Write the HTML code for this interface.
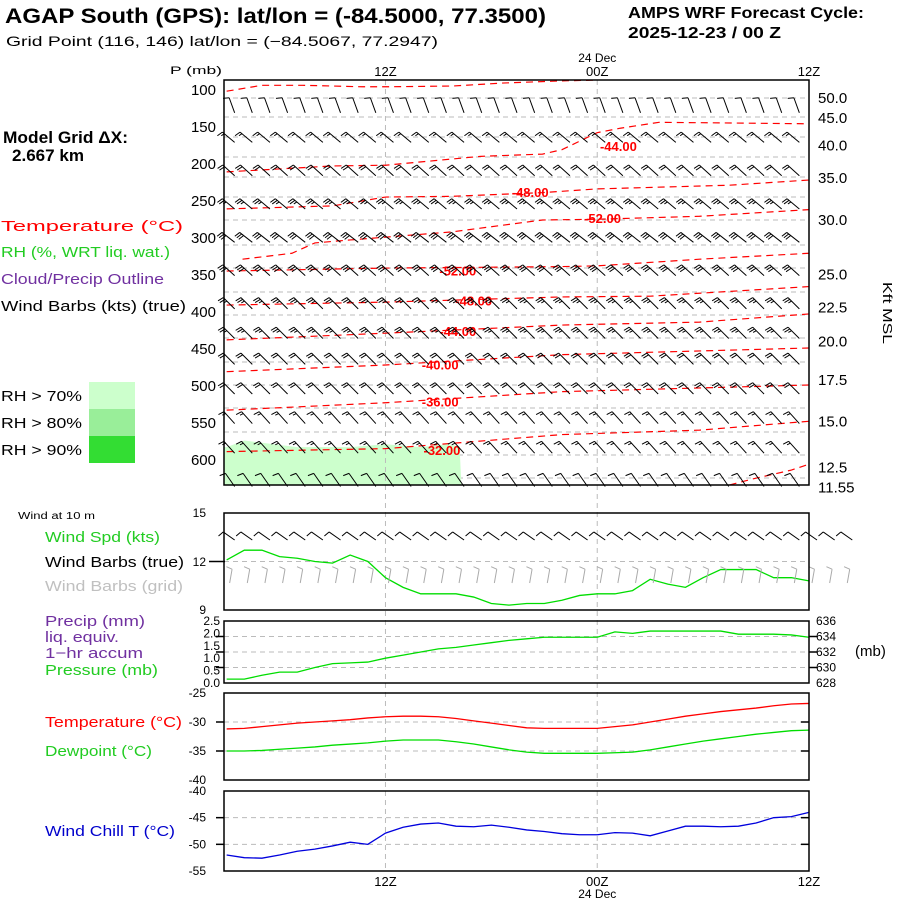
<!DOCTYPE html>
<html><head><meta charset="utf-8"><style>
body{margin:0;background:#fff;}
svg{display:block;font-family:"Liberation Sans",sans-serif;}
</style></head><body>
<svg id="c" width="900" height="900" viewBox="0 0 900 900">
<rect width="900" height="900" fill="#fff"/>
<text x="5" y="23" font-size="21" font-weight="bold" textLength="541" lengthAdjust="spacingAndGlyphs">AGAP South (GPS):  lat/lon = (-84.5000, 77.3500)</text>
<text x="6" y="46" font-size="14" textLength="432" lengthAdjust="spacingAndGlyphs">Grid Point (116, 146) lat/lon = (−84.5067, 77.2947)</text>
<text x="628" y="18" font-size="16" font-weight="bold" textLength="236" lengthAdjust="spacingAndGlyphs">AMPS WRF Forecast Cycle:</text>
<text x="628" y="38" font-size="16" font-weight="bold" textLength="153" lengthAdjust="spacingAndGlyphs">2025-12-23 / 00  Z</text>
<text x="3" y="143" font-size="17" font-weight="bold" textLength="125" lengthAdjust="spacingAndGlyphs">Model Grid ΔX:</text>
<text x="12" y="161" font-size="17" font-weight="bold" textLength="72" lengthAdjust="spacingAndGlyphs">2.667 km</text>
<text x="1" y="231" font-size="15" fill="#ff0000" textLength="182" lengthAdjust="spacingAndGlyphs">Temperature (°C)</text>
<text x="1" y="257" font-size="15" fill="#22cc22" textLength="169" lengthAdjust="spacingAndGlyphs">RH (%, WRT liq. wat.)</text>
<text x="1" y="284" font-size="15" fill="#7030a0" textLength="163" lengthAdjust="spacingAndGlyphs">Cloud/Precip Outline</text>
<text x="1" y="311" font-size="15" fill="#000" textLength="185" lengthAdjust="spacingAndGlyphs">Wind Barbs (kts) (true)</text>
<rect x="89" y="382" width="46" height="27" fill="#ccffcc"/>
<rect x="89" y="409" width="46" height="27" fill="#99ee99"/>
<rect x="89" y="436" width="46" height="27" fill="#33dd33"/>
<text x="1" y="401" font-size="15" textLength="81" lengthAdjust="spacingAndGlyphs">RH &gt; 70%</text>
<text x="1" y="428" font-size="15" textLength="81" lengthAdjust="spacingAndGlyphs">RH &gt; 80%</text>
<text x="1" y="455" font-size="15" textLength="81" lengthAdjust="spacingAndGlyphs">RH &gt; 90%</text>
<text x="18" y="519" font-size="10" textLength="77" lengthAdjust="spacingAndGlyphs">Wind at 10 m</text>
<text x="45" y="542" font-size="15" fill="#22cc22" textLength="115" lengthAdjust="spacingAndGlyphs">Wind Spd (kts)</text>
<text x="45" y="567" font-size="15" textLength="139" lengthAdjust="spacingAndGlyphs">Wind Barbs (true)</text>
<text x="45" y="591" font-size="15" fill="#c0c0c0" textLength="138" lengthAdjust="spacingAndGlyphs">Wind Barbs (grid)</text>
<text x="45" y="626" font-size="15" fill="#7030a0" textLength="100" lengthAdjust="spacingAndGlyphs">Precip (mm)</text>
<text x="45" y="642" font-size="15" fill="#7030a0" textLength="74" lengthAdjust="spacingAndGlyphs">liq. equiv.</text>
<text x="45" y="658" font-size="15" fill="#7030a0" textLength="98" lengthAdjust="spacingAndGlyphs">1−hr accum</text>
<text x="45" y="675" font-size="15" fill="#22cc22" textLength="113" lengthAdjust="spacingAndGlyphs">Pressure (mb)</text>
<text x="45" y="727" font-size="15" fill="#ff0000" textLength="137" lengthAdjust="spacingAndGlyphs">Temperature (°C)</text>
<text x="45" y="756" font-size="15" fill="#22cc22" textLength="107" lengthAdjust="spacingAndGlyphs">Dewpoint (°C)</text>
<text x="45" y="836" font-size="15" fill="#0000cc" textLength="130" lengthAdjust="spacingAndGlyphs">Wind Chill T (°C)</text>
<text x="170" y="74" font-size="11" textLength="52" lengthAdjust="spacingAndGlyphs">P (mb)</text>
<text x="855" y="656" font-size="15">(mb)</text>
<text x="0" y="0" font-size="13" transform="translate(883,282) rotate(90)" textLength="62" lengthAdjust="spacingAndGlyphs">Kft MSL</text>
<g id="g"></g>
</svg>
<script>
// ---- data ----
const hours = [3,4,5,6,7,8,9,10,11,12,13,14,15,16,17,18,19,20,21,22,23,24,25,26,27,28,29,30,31,32,33,34,35,36];
const windSpd = [12.1,12.7,12.7,12.3,12.2,12.0,11.9,12.4,12.0,11.0,10.4,10.0,10.0,10.0,9.8,9.4,9.3,9.4,9.4,9.6,9.9,10.0,10.0,10.2,10.9,10.6,10.4,11.0,11.5,11.5,11.5,11.0,11.0,10.8];
const pressure = [628.5,628.5,629.0,629.4,629.4,630.0,630.5,630.6,630.7,631.2,631.6,632.0,632.4,632.6,632.9,633.2,633.5,633.7,633.9,633.9,633.9,633.9,634.6,634.4,634.7,634.7,634.7,634.7,634.7,634.3,634.3,634.3,634.2,633.9];
const temp = [-31.2,-31.1,-30.8,-30.5,-30.2,-30.0,-29.8,-29.6,-29.3,-29.1,-29.0,-29.0,-29.1,-29.4,-29.8,-30.2,-30.6,-31.0,-31.1,-31.1,-31.1,-31.1,-30.8,-30.5,-30.0,-29.5,-29.0,-28.6,-28.2,-27.9,-27.6,-27.2,-26.9,-26.8];
const dewpt = [-35.0,-35.0,-34.9,-34.7,-34.5,-34.3,-34.0,-33.8,-33.6,-33.3,-33.1,-33.1,-33.1,-33.4,-33.8,-34.3,-34.8,-35.2,-35.4,-35.4,-35.4,-35.4,-35.3,-35.2,-34.8,-34.3,-33.8,-33.3,-32.9,-32.5,-32.1,-31.8,-31.5,-31.4];
const windChill = [-52.0,-52.5,-52.6,-52.0,-51.3,-50.9,-50.3,-49.6,-50.0,-47.9,-46.8,-46.2,-46.0,-46.6,-46.7,-46.4,-46.8,-47.3,-47.6,-48.0,-48.2,-48.2,-47.8,-47.9,-48.4,-47.5,-46.6,-46.6,-46.7,-46.6,-46.0,-45.0,-44.8,-44.0];
const rowP = [120,160,205,250,295,340,385,425,460,500,540,580,625];
const rowDir = [340,310,312,310,308,312,315,315,315,315,318,318,325];
const rowSpd = [10,15,20,25,30,30,25,25,20,20,15,15,10];
const contourH = [[3,5,7.3,10.7,12,15.8,18.6,22,24],[3,9,12,17.4,20.9,22,24,25.3,27.5,36],[3,9,12,15.8,20.9,24,31.5,36],[3.9,6.7,8,10,15.8,20.9,24,29.8,36],[3,12,22,24,29.8,36],[3,12,22,27,36],[3,12,22,29.8,36],[3,12,22,29.8,36],[3,12,22,29.8,36],[3,12,22,29.8,36],[31.5,32.8,35,36]];
const contourP = [[103,95,95,97,97,96,92,89,88],[212,204,203,191,188,182,159,153,145,147],[262,258,246,245,240,235,230,223],[330,322,308,304,293,277,276,272,263],[346,342,340,339,330,322],[392,388,381,380,367],[439,430,419,415,404],[482,473,459,454,450],[534,524,509,504,500],[590,586,567,561,549],[635,627,615,607]];
const contourLabels = ["-44.00","-48.00","-52.00","-52.00","-48.00","-44.00","-40.00","-36.00","-32.00"];
const labelH = [25.2,20.2,24.3,16.1,17,16.1,15.1,15.1,15.2];
const labelP = [177,239,274,345,386,427,472,522,588];
const rhH = [3,4,5,7,10,12,14,15.5,16.2,16.3];
const rhP = [584,575,578,584,584,580,584,580,583,636];
const pTicks = [100,150,200,250,300,350,400,450,500,550,600];
const kftLabels = ["50.0","45.0","40.0","35.0","30.0","25.0","22.5","20.0","17.5","15.0","12.5","11.55"];
const kftP = [111,138,175,219,276,349,394,440,492,548,610,637];
const timeLabels = ["12Z","00Z","12Z"];
const timeH = [12,24,36];

// ---- axes ----
const X0=224,X1=809,H0=2.85,H1=36;
const xs=h=>X0+(h-H0)*(X1-X0)/(H1-H0);
const yP=p=>89+(p-100)*0.74;
const yW=v=>513+(15-v)*97/6;
const yPr=v=>683-(v-628)*62/8;
const yT=v=>693+(-25-v)*87/15;
const yC=v=>791+(-40-v)*80/15;
const g=document.getElementById('g');
const NS='http://www.w3.org/2000/svg';
function mk(tag,at){const e=document.createElementNS(NS,tag);for(const k in at)e.setAttribute(k,at[k]);g.appendChild(e);return e;}
function line(x1,y1,x2,y2,st,w,da){return mk('line',{x1,y1,x2,y2,stroke:st,'stroke-width':w||1,'stroke-dasharray':da||'none'});}
function txt(x,y,s,sz,anchor,fill){const t=mk('text',{x,y,'font-size':sz,'text-anchor':anchor||'start',fill:fill||'#000'});t.textContent=s;return t;}

// main panel grid
[98,117,137,157,177,197,220,245,268,292,315,338,362,385,408,432,455,478].forEach(y=>{
  const l=line(X0,y,X1,y,'#bbb',1,'5,4');
  
  
});
// RH fill
{let d='';rhH.forEach((h,i)=>{d+=(i?'L':'M')+xs(h)+','+Math.min(yP(rhP[i]),485);});d+='L'+X0+',485L'+X0+','+yP(rhP[0])+'Z';
const e=mk('path',{d,fill:'#ccffcc',stroke:'none'});

}

// vertical time lines
[12,24].forEach(h=>{
  const l=line(xs(h),80,xs(h),871,'#bbb',1,'5,4');
  
  
});

// temperature contours
contourH.forEach((hs,ci)=>{
  let d='';hs.forEach((h,i)=>{d+=(i?'L':'M')+xs(h)+','+Math.max(80,yP(contourP[ci][i]));});
  const e=mk('path',{d,fill:'none',stroke:'#ff0000','stroke-width':1.2,'stroke-dasharray':'7,5'});
  
  
});
contourLabels.forEach((s,i)=>{
  const t=txt(xs(labelH[i]),yP(labelP[i])+5,s,13,'middle','#ff0000');
  t.setAttribute('font-weight','bold');
  
  
});

// barbs
function barb(x,y,dir,spd,col,L){
  L=L||16;
  const r=dir*Math.PI/180, ux=Math.sin(r), uy=-Math.cos(r);
  const tx=x+ux*L, ty=y+uy*L, px=uy, py=-ux;
  let d='M'+x+','+y+'L'+tx+','+ty;
  let n=Math.floor(spd/10), half=(spd%10)>=5, k=0;
  for(let i=0;i<n;i++,k++){const sx=tx-ux*k*2.5,sy=ty-uy*k*2.5;d+='M'+sx+','+sy+'L'+(sx+px*6+ux*1.5)+','+(sy+py*6+uy*1.5);}
  if(half){const sx=tx-ux*k*2.5,sy=ty-uy*k*2.5;d+='M'+sx+','+sy+'L'+(sx+px*3.5+ux*1)+','+(sy+py*3.5+uy*1);}
  const e=mk('path',{d,fill:'none',stroke:col,'stroke-width':1});
  return e;
}
rowP.forEach((p,ri)=>{
  hours.forEach(h=>{
    const bx=xs(h)+8; if(bx>X1+1)return;
    const e=barb(bx,yP(p)+9,rowDir[ri],rowSpd[ri],'#000');
    
    
  });
});

// main panel frame
{const r=mk('rect',{x:X0,y:80,width:X1-X0,height:405,fill:'none',stroke:'#000','stroke-width':1.5});

}
pTicks.forEach(p=>{const t=txt(216,yP(p)+6,String(p),15,'end');
  
  });
kftLabels.forEach((s,i)=>{const t=txt(818,yP(kftP[i])+6,s,15,'start');
  
  });
timeLabels.forEach((s,i)=>{
  const t=txt(xs(timeH[i]),76,s,13,'middle');
  
  
  const b=txt(xs(timeH[i]),886,s,13,'middle');
  
  
});
{const t=txt(xs(24),62,'24 Dec',12,'middle');
const b=txt(xs(24),898,'24 Dec',12,'middle');}

// ---- lower panels ----
function panel(y0,y1,name){const r=mk('rect',{x:X0,y:y0,width:X1-X0,height:y1-y0,fill:'none',stroke:'#000','stroke-width':1.5});
  }
function series(vals,fy,col,name){let d='';vals.forEach((v,i)=>{d+=(i?'L':'M')+xs(hours[i])+','+fy(v);});
  const e=mk('path',{d,fill:'none',stroke:col,'stroke-width':1.3});}
// wind panel
line(X0,yW(12),X1,yW(12),'#bbb',1,'5,4');
line(X0-15,yW(12),X0+1,yW(12),'#000',1.5);
series(windSpd,yW,'#00dd00','wind-speed-line');
hours.concat([37,38]).forEach(h=>{
  const bx=xs(h);
  const e=barb(bx+8,540,305,10,'#000',14);
  
  
  const e2=barb(bx+3,583,10,10,'#aaa',14);
  
  
});
panel(513,610,'wind-panel-frame');
[['15',513],['12',562],['9',610]].forEach(a=>{const t=txt(206,a[1]+4,a[0],12,'end');});
// precip/pressure panel
[630,632,634].forEach(v=>{line(X0,yPr(v),X1,yPr(v),'#bbb',1,'5,4');line(X0-8,yPr(v),X0,yPr(v),'#000',1.5);line(X1,yPr(v),X1+8,yPr(v),'#000',1.5);});
series(pressure,yPr,'#00dd00','pressure-line');
panel(621,683,'precip-panel-frame');
['2.5','2.0','1.5','1.0','0.5','0.0'].forEach((s,i)=>{const t=txt(220,621+i*12.4+4,s,12,'end');});
[636,634,632,630,628].forEach(v=>{const t=txt(816,yPr(v)+4,String(v),12,'start');});
// temp panel
[-30,-35].forEach(v=>{line(X0,yT(v),X1,yT(v),'#bbb',1,'5,4');line(X0-8,yT(v),X0,yT(v),'#000',1.5);line(X1-8,yT(v),X1,yT(v),'#000',1.5);});
series(temp,yT,'#ff0000','temperature-line');
series(dewpt,yT,'#00dd00','dewpoint-line');
panel(693,780,'temp-panel-frame');
[-25,-30,-35,-40].forEach(v=>{const t=txt(206,yT(v)+4,String(v),12,'end');});
// wind chill panel
[-45,-50].forEach(v=>{line(X0,yC(v),X1,yC(v),'#bbb',1,'5,4');line(X0-8,yC(v),X0,yC(v),'#000',1.5);line(X1-8,yC(v),X1,yC(v),'#000',1.5);});
series(windChill,yC,'#0000dd','wind-chill-line');
panel(791,871,'wind-chill-panel-frame');
[-40,-45,-50,-55].forEach(v=>{const t=txt(206,yC(v)+4,String(v),12,'end');});
</script>
</body></html>
